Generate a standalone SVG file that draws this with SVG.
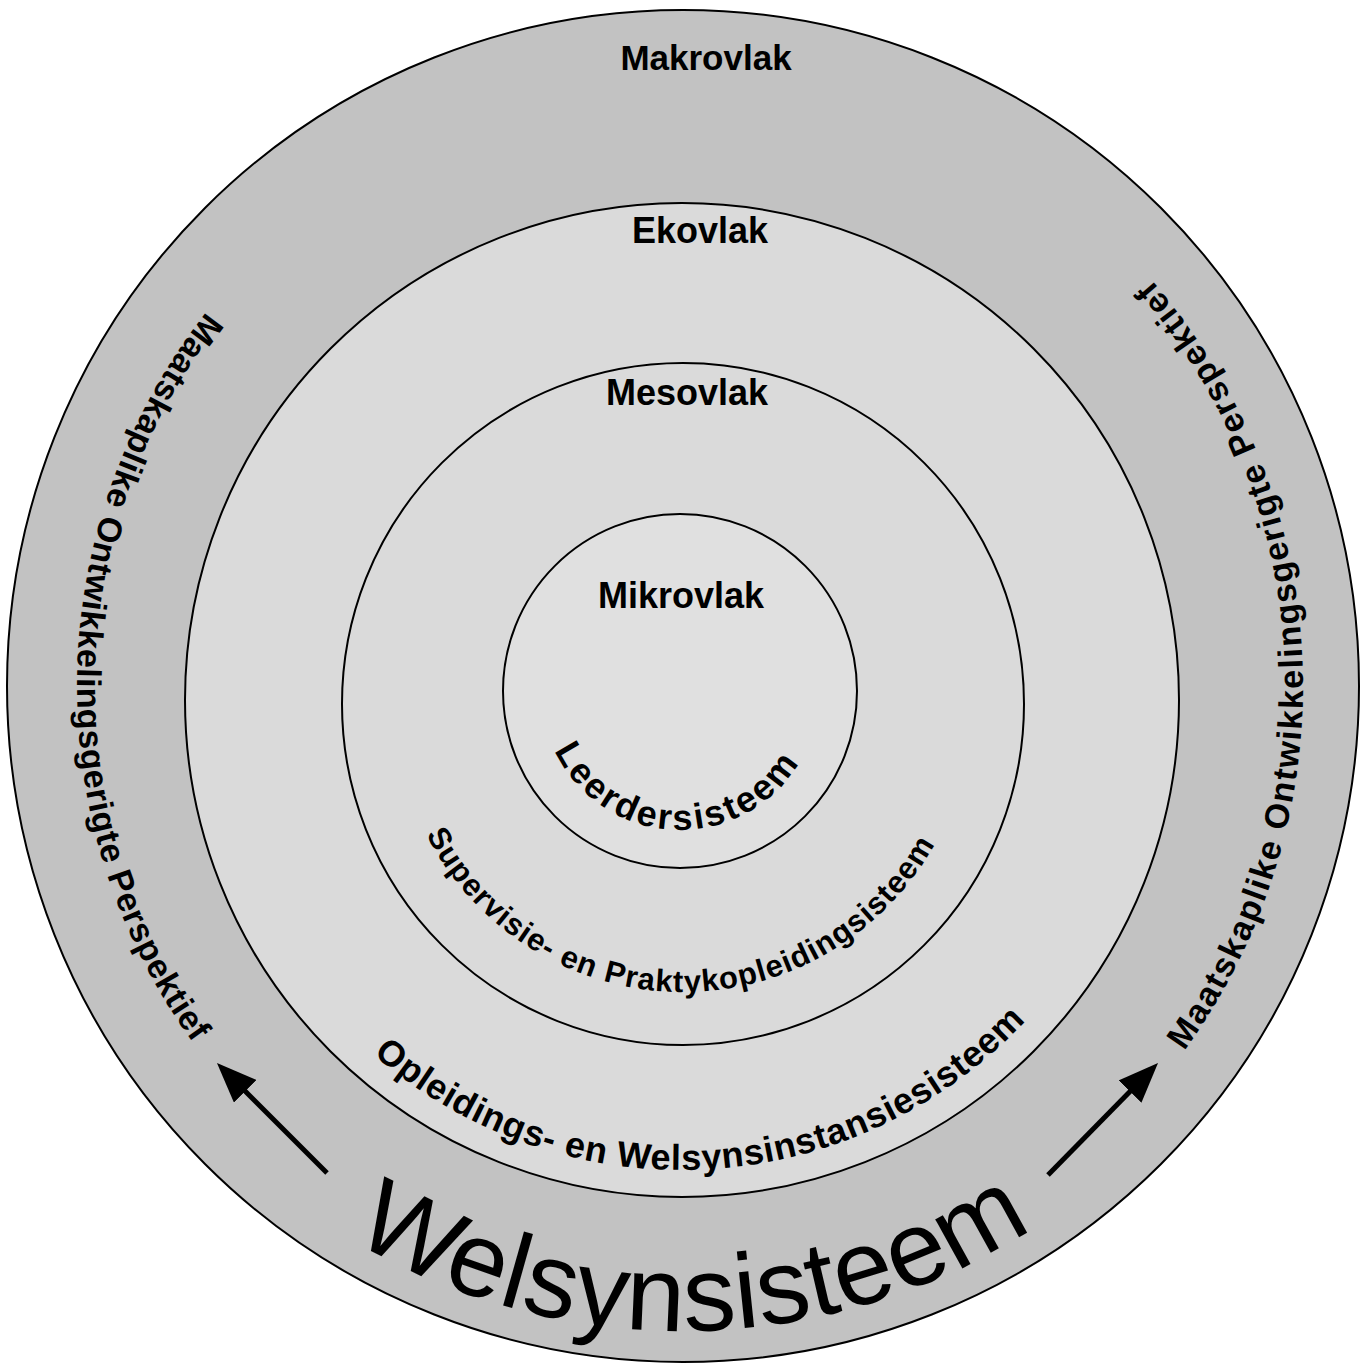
<svg xmlns="http://www.w3.org/2000/svg" xmlns:xlink="http://www.w3.org/1999/xlink" width="1365" height="1367" viewBox="0 0 1365 1367">
<style>
.ring{stroke:#000;stroke-width:2}
.lbl{font-family:"Liberation Sans",Arial,sans-serif;font-weight:bold;fill:#000}
.big{font-family:"Liberation Sans",Arial,sans-serif;font-weight:normal;fill:#000}
.arrow{stroke:#000;stroke-width:5;fill:none}
</style>
<defs>
<marker id="ah" markerUnits="userSpaceOnUse" markerWidth="40" markerHeight="32" refX="20" refY="16" orient="auto">
<path d="M0,0 L40,16 L0,32 z" fill="#000"/>
</marker>
<path id="pLeer" d="M554,749.7 A139,139 0 0 0 800.4,760.5" fill="none"/>
<path id="pSup" d="M426.4,834.8 A288,288 0 0 0 934.9,843.6" fill="none"/>
<path id="pOpl" d="M373.6,1054.7 A470,470 0 0 0 1025.7,1020.5" fill="none"/>
<path id="pWel" d="M350.8,1238.9 A645,645 0 0 0 1034.3,1226.9" fill="none"/>
<path id="pLeft" d="M205.5,312.9 A606,606 0 0 0 192.7,1042.2" fill="none"/>
<path id="pRight" d="M1184.6,1050.4 A620,620 0 0 0 1150.9,279.2" fill="none"/>
</defs>
<rect width="1365" height="1367" fill="#fff"/>
<g id="makrovlak">
<circle class="ring" cx="683" cy="686" r="676" fill="#c2c2c2" stroke-width="2.5"/>
<text class="lbl" x="706" y="70" font-size="35" text-anchor="middle">Makrovlak</text>
</g>
<g id="ekovlak">
<circle class="ring" cx="682" cy="700" r="497" fill="#dadada"/>
<text class="lbl" x="700" y="243" font-size="36" text-anchor="middle">Ekovlak</text>
</g>
<g id="mesovlak">
<circle class="ring" cx="683" cy="704" r="341" fill="#dadada"/>
<text class="lbl" x="687" y="405" font-size="36" text-anchor="middle">Mesovlak</text>
</g>
<g id="mikrovlak">
<circle class="ring" cx="680" cy="691" r="177" fill="#e0e0e0"/>
<text class="lbl" x="681" y="608" font-size="36" text-anchor="middle">Mikrovlak</text>
</g>
<g id="labels-curved">
<text class="lbl" font-size="36" letter-spacing="2.5"><textPath xlink:href="#pLeer" href="#pLeer" startOffset="50%" text-anchor="middle">Leerdersisteem</textPath></text>
<text class="lbl" font-size="31" letter-spacing="1"><textPath xlink:href="#pSup" href="#pSup" startOffset="50%" text-anchor="middle">Supervisie- en Praktykopleidingsisteem</textPath></text>
<text class="lbl" font-size="36" letter-spacing="0.7"><textPath xlink:href="#pOpl" href="#pOpl" startOffset="50%" text-anchor="middle">Opleidings- en Welsynsinstansiesisteem</textPath></text>
<text class="big" font-size="106" letter-spacing="0.5"><textPath xlink:href="#pWel" href="#pWel" startOffset="50%" text-anchor="middle">Welsynsisteem</textPath></text>
<text class="lbl" font-size="34" letter-spacing="0.6"><textPath xlink:href="#pLeft" href="#pLeft" startOffset="50%" text-anchor="middle">Maatskaplike Ontwikkelingsgerigte Perspektief</textPath></text>
<text class="lbl" font-size="34" letter-spacing="1.7"><textPath xlink:href="#pRight" href="#pRight" startOffset="50%" text-anchor="middle">Maatskaplike Ontwikkelingsgerigte Perspektief</textPath></text>
</g>
<g id="connectors">
<line class="arrow" x1="327" y1="1173" x2="231.1" y2="1077.1" marker-end="url(#ah)"/>
<line class="arrow" x1="1048" y1="1175" x2="1144" y2="1077.3" marker-end="url(#ah)"/>
</g>
</svg>
